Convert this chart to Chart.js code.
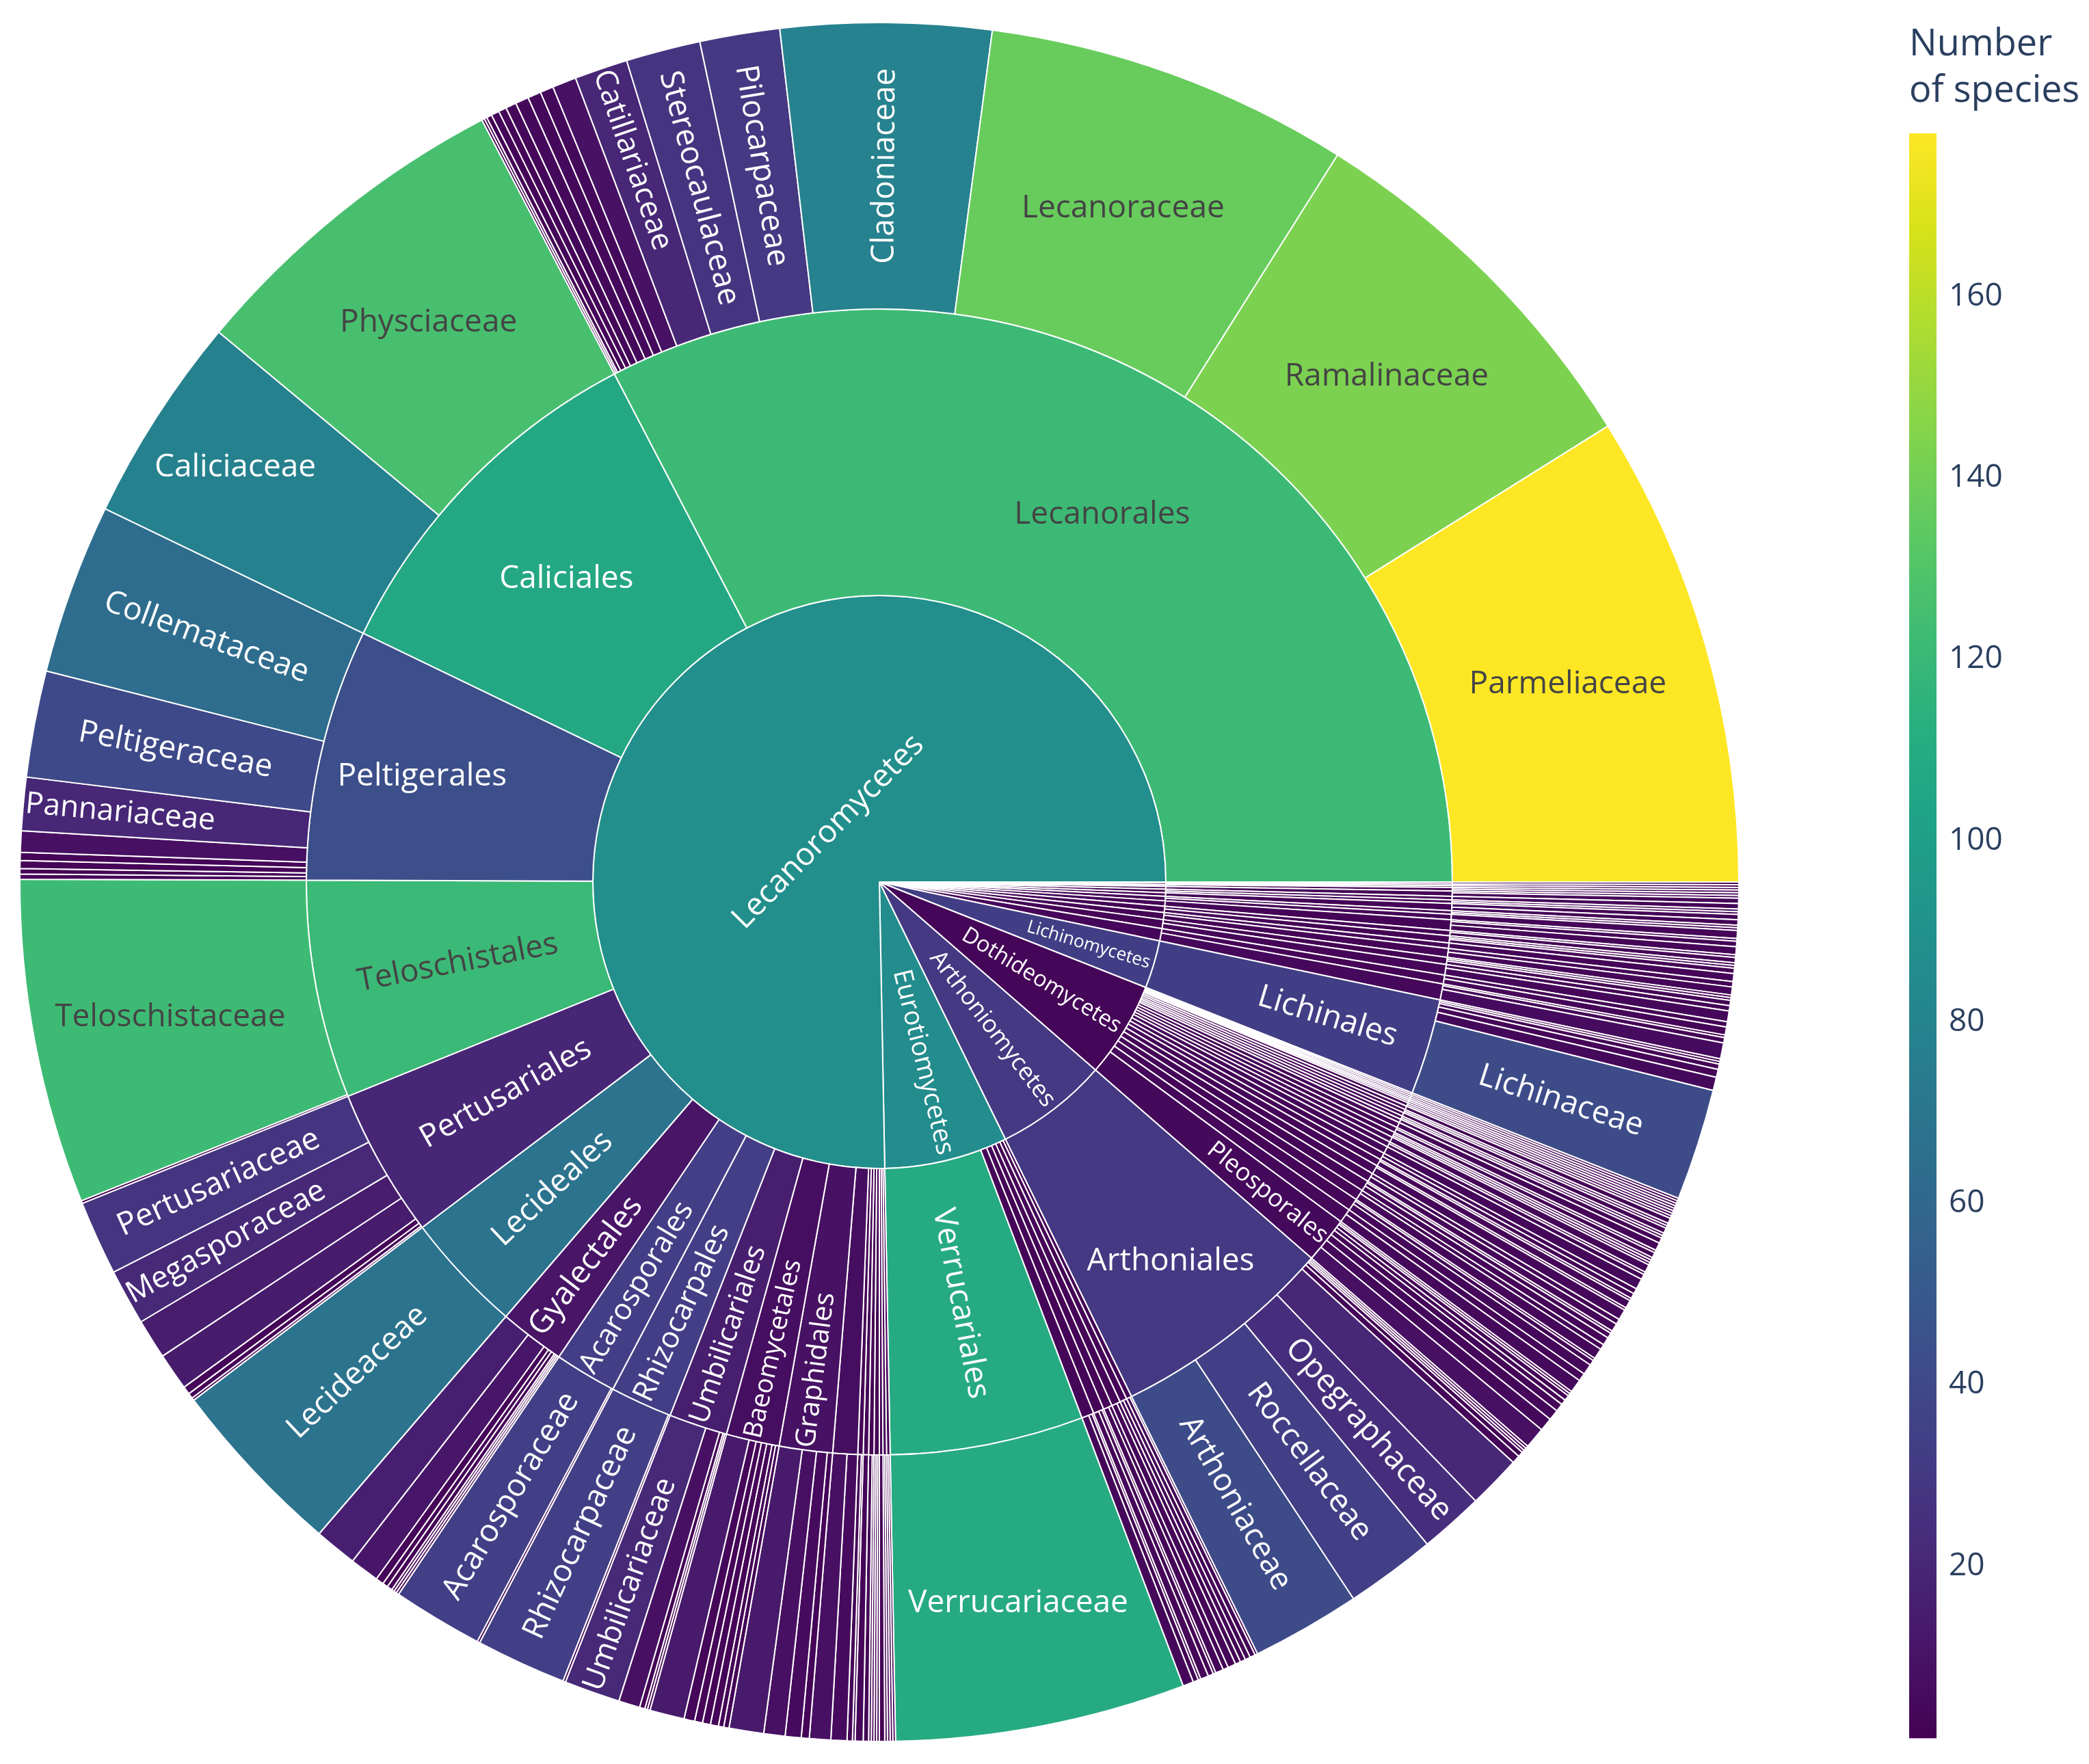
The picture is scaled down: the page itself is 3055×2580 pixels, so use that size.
<!DOCTYPE html>
<html>
<head>
<meta charset="utf-8">
<title>Lichen species per class, order and family</title>
<script src="https://cdn.jsdelivr.net/npm/chart.js@4.4.1/dist/chart.umd.min.js"></script>
<style>
  html, body { margin: 0; padding: 0; background: #fff; }
  body { width: 3055px; height: 2580px; position: relative; overflow: hidden; }
  #sunWrap { position: absolute; left: 0; top: 0; width: 2572px; height: 2580px; }
  #barWrap { position: absolute; left: 2792px; top: 0; width: 263px; height: 2580px; }
</style>
</head>
<body>
<div id="sunWrap"><canvas id="sunburst" width="2572" height="2580"></canvas></div>
<div id="barWrap"><canvas id="colorbar" width="263" height="2580"></canvas></div>
<script>
// classes, inner ring ('' = too thin to carry a label)
const classNames = ['Lecanoromycetes', 'Eurotiomycetes', 'Arthoniomycetes', 'Dothideomycetes', 'Lichinomycetes',
  '', '', '', '', '', '', '', '', '', '', '', ''];

// orders, middle ring
const orderNames = [
  'Lecanorales', 'Caliciales', 'Peltigerales', 'Teloschistales', 'Pertusariales', 'Lecideales',
  'Gyalectales', 'Acarosporales', 'Rhizocarpales', 'Umbilicariales', 'Baeomycetales', 'Graphidales',
  '', '', '', '', '', '', '', '',
  'Verrucariales', '', '', '', '', '', '',
  'Arthoniales',
  'Pleosporales', '', '', '', '', '', '', '', '', '', '', '', '', '', '', '', '', '', '', '', '', '', '', '', '', '', '',
  'Lichinales',
  '', '', '', '', '', '', '', '', '', '', '', '', '', '', '', '', '', '', ''
];
// index into classNames for each order
const orderClass = [
  0, 0, 0, 0, 0, 0, 0, 0, 0, 0, 0, 0, 0, 0, 0, 0, 0, 0, 0, 0,
  1, 1, 1, 1, 1, 1, 1,
  2,
  3, 3, 3, 3, 3, 3, 3, 3, 3, 3, 3, 3, 3, 3, 3, 3, 3, 3, 3, 3, 3, 3, 3, 3, 3, 3, 3,
  4,
  5, 5, 6, 6, 7, 7, 8, 8, 9, 10, 10, 11, 12, 12, 13, 14, 15, 15, 16
];

// species per family, one list per order (outer ring)
const familySpecies = [
  [178, 143, 137, 79, 30, 28, 20, 9, 5, 5, 5, 4, 3, 3, 2, 1, 1],
  [126, 78],
  [64, 40, 20, 8, 3, 3, 2, 2],
  [122, 1],
  [28, 21, 15, 14, 3, 2, 1],
  [68],
  [16, 11, 3, 2, 2, 1, 1, 1],
  [34, 1],
  [34, 1],
  [21, 8, 2, 1, 1],
  [13, 4, 3, 3, 3, 2, 2],
  [13, 8, 6, 3],
  [8, 6], [2, 1], [3], [2, 1], [1, 1, 1], [2], [1, 1], [1, 1],
  [109],
  [4, 2, 1], [3, 2, 1], [3, 2], [3, 2], [2, 2], [2, 1],
  [41, 34, 24, 20, 3, 2, 1, 1, 1],
  [8, 5, 4, 3, 2, 2, 1, 1],
  [5, 3], [4, 2, 1], [4, 2], [3, 2, 1], [3, 2], [4, 1], [3, 1], [2, 2], [4], [2, 1], [3], [1, 1, 1],
  [2, 1], [3], [2], [1, 1], [2], [1, 1], [2], [1, 1], [1], [1], [1], [1], [1], [1],
  [42, 5, 3, 2, 1, 1],
  [6, 2, 1], [3, 2], [4, 2], [2, 1, 1], [3, 2], [3], [2, 1, 1], [2, 1], [3, 2, 1], [3], [1, 1],
  [2, 2], [1, 1], [2], [2, 1], [1, 1], [1], [1], [1]
];

// family names that are printed, largest first in each order
const familyNames = {
  Lecanorales: ['Parmeliaceae', 'Ramalinaceae', 'Lecanoraceae', 'Cladoniaceae', 'Pilocarpaceae', 'Stereocaulaceae', 'Catillariaceae'],
  Caliciales: ['Physciaceae', 'Caliciaceae'],
  Peltigerales: ['Collemataceae', 'Peltigeraceae', 'Pannariaceae'],
  Teloschistales: ['Teloschistaceae'],
  Pertusariales: ['Pertusariaceae', 'Megasporaceae'],
  Lecideales: ['Lecideaceae'],
  Acarosporales: ['Acarosporaceae'],
  Rhizocarpales: ['Rhizocarpaceae'],
  Umbilicariales: ['Umbilicariaceae'],
  Verrucariales: ['Verrucariaceae'],
  Arthoniales: ['Arthoniaceae', 'Roccellaceae', 'Opegraphaceae'],
  Lichinales: ['Lichinaceae']
};

const colorbarTicks = [20, 40, 60, 80, 100, 120, 140, 160];

// plotly viridis
const viridisPos = [0, 0.0627, 0.1255, 0.1882, 0.2510, 0.3137, 0.3765, 0.4392, 0.5020,
  0.5647, 0.6275, 0.6902, 0.7529, 0.8157, 0.8784, 0.9412, 1];
const viridisHex = ['#440154', '#48186a', '#472d7b', '#424086', '#3b528b', '#33638d', '#2c728e', '#26828e',
  '#21918c', '#1fa088', '#28ae80', '#3fbc73', '#5ec962', '#84d44b', '#addc30', '#d8e219', '#fde725'];

function hexToRgb(h) {
  return [parseInt(h.slice(1, 3), 16), parseInt(h.slice(3, 5), 16), parseInt(h.slice(5, 7), 16)];
}
function viridis(t) {
  t = Math.max(0, Math.min(1, t));
  let i = 0;
  while (i < viridisPos.length - 2 && t > viridisPos[i + 1]) i++;
  const f = (t - viridisPos[i]) / (viridisPos[i + 1] - viridisPos[i]);
  const a = hexToRgb(viridisHex[i]), b = hexToRgb(viridisHex[i + 1]);
  return [0, 1, 2].map(k => Math.round(a[k] + (b[k] - a[k]) * f));
}

// flatten the families, then sum up orders and classes
const famVals = [], famLabels = [];
familySpecies.forEach((list, o) => {
  const names = familyNames[orderNames[o]] || [];
  list.forEach((v, k) => { famVals.push(v); famLabels.push(names[k] || ''); });
});
const sum = l => l.reduce((a, b) => a + b, 0);
const orderVals = familySpecies.map(sum);
const orderSq = familySpecies.map(l => sum(l.map(v => v * v)));
const classVals = classNames.map((_, c) => sum(orderVals.filter((_, o) => orderClass[o] === c)));
const classSq = classNames.map((_, c) => sum(orderSq.filter((_, o) => orderClass[o] === c)));

// colour = number of species, parents get the weighted mean of their children
const cmin = Math.min(...famVals), cmax = Math.max(...famVals);
const toColor = v => viridis((v - cmin) / (cmax - cmin));
const rgbStr = c => 'rgb(' + c.join(',') + ')';

const famCols = famVals.map(v => toColor(v));
const orderCols = orderVals.map((v, i) => toColor(orderSq[i] / v));
const classCols = classVals.map((v, i) => toColor(classSq[i] / v));

// chart.js goes clockwise, the picture goes counterclockwise from 3 o'clock -> reverse
const rev = a => a.slice().reverse();

function ring(values, cols, names) {
  return {
    data: rev(values),
    backgroundColor: rev(cols.map(rgbStr)),
    rgb: rev(cols),
    names: rev(names),
    borderColor: '#ffffff',
    borderWidth: 2
  };
}

// text placement like plotly sunburst (insidetextorientation auto)
const BASE_FONT = 46;
const TEXTPAD = 11.5;
function maxHalf(a, half, r, ringFrac) {
  const q = a + 1 / (2 * Math.tan(half));
  return r * Math.min(1 / (Math.sqrt(q * q + 0.5) + q), ringFrac / (Math.sqrt(a * a + ringFrac / 2) + a));
}
function normRot(t) {
  let d = t * 180 / Math.PI;
  d = ((d + 90) % 180 + 180) % 180 - 90;
  return d * Math.PI / 180;
}
// same wrap-around as plotly's angleDelta, so slices over 180 deg behave like there
function halfAngle(span) {
  const d = ((span + Math.PI) % (2 * Math.PI) + 2 * Math.PI) % (2 * Math.PI) - Math.PI;
  return 0.5 * Math.min(d || Math.PI, Math.PI);
}

const labelPlugin = {
  id: 'sectorLabels',
  afterDatasetsDraw(chart) {
    const ctx = chart.ctx;
    chart.data.datasets.forEach((ds, di) => {
      const meta = chart.getDatasetMeta(di);
      meta.data.forEach((arc, j) => {
        const name = ds.names[j];
        if (!name) return;
        const p = arc.getProps(['x', 'y', 'startAngle', 'endAngle', 'innerRadius', 'outerRadius'], true);
        ctx.font = BASE_FONT + 'px "Open Sans"';
        const w = ctx.measureText(name).width;
        const h = BASE_FONT * 1.36;
        const span = p.endAngle - p.startAngle;
        const mid = (p.startAngle + p.endAngle) / 2;
        const r = p.outerRadius;
        const half = halfAngle(span);
        const ringFrac = 1 - p.innerRadius / r;
        const rIns = Math.max(0, Math.min(1 / (1 + 1 / Math.sin(half)), ringFrac / 2));

        let best = { scale: rIns * r * 2 / Math.hypot(w, h), rc: 1 - rIns, rot: 0 };
        if (best.scale < 1) {
          const rr = Math.max(0, r - 2 * TEXTPAD);
          const a1 = h / w, s1 = maxHalf(a1, half, rr, ringFrac);
          const tan = { scale: 2 * s1 / w, rc: Math.cos(s1 / rr) - a1 * s1 / rr, rot: normRot(mid + Math.PI / 2) };
          const a2 = w / h, s2 = maxHalf(a2, half, rr, ringFrac);
          const rad = { scale: 2 * s2 / h, rc: Math.cos(s2 / rr) - a2 * s2 / rr, rot: normRot(mid) };
          if (tan.scale > best.scale) best = tan;
          if (rad.scale > best.scale) best = rad;
        }
        const size = BASE_FONT * Math.min(1, best.scale);
        if (size < 8) return;
        const tx = p.x + Math.cos(mid) * r * best.rc;
        const ty = p.y + Math.sin(mid) * r * best.rc;
        const c = ds.rgb[j];
        const bright = (c[0] * 299 + c[1] * 587 + c[2] * 114) / 1000;

        ctx.save();
        ctx.translate(tx, ty);
        ctx.rotate(best.rot);
        ctx.font = size + 'px "Open Sans"';
        ctx.textAlign = 'center';
        ctx.textBaseline = 'middle';
        ctx.fillStyle = bright < 128 ? '#ffffff' : '#444444';
        ctx.fillText(name, 0, 0);
        ctx.restore();
      });
    });
  }
};

function drawCharts() {
  new Chart(document.getElementById('sunburst'), {
    type: 'doughnut',
    data: {
      labels: [],
      datasets: [
        ring(famVals, famCols, famLabels),
        ring(orderVals, orderCols, orderNames),
        ring(classVals, classCols, classNames)
      ]
    },
    options: {
      responsive: false,
      animation: false,
      devicePixelRatio: 1,
      events: [],
      rotation: 90,
      circumference: 360,
      cutout: 0,
      radius: 1257,
      layout: { padding: 0 },
      plugins: { legend: { display: false }, tooltip: { enabled: false } }
    },
    plugins: [labelPlugin]
  });

  // colour bar as a single floating bar on its own axis
  new Chart(document.getElementById('colorbar'), {
    type: 'bar',
    data: {
      labels: ['species'],
      datasets: [{
        data: [[cmin, cmax]],
        backgroundColor: (c) => {
          const area = c.chart.chartArea;
          if (!area) return viridisHex[0];
          const g = c.chart.ctx.createLinearGradient(0, area.bottom, 0, area.top);
          viridisPos.forEach((p, i) => g.addColorStop(p, viridisHex[i]));
          return g;
        },
        borderWidth: 0,
        barPercentage: 1,
        categoryPercentage: 1
      }]
    },
    options: {
      responsive: false,
      animation: false,
      devicePixelRatio: 1,
      events: [],
      layout: { padding: { top: 0, bottom: 35, left: 0, right: 0 } },
      plugins: {
        legend: { display: false },
        tooltip: { enabled: false },
        title: {
          display: true,
          text: ['Number', 'of species'],
          align: 'start',
          color: '#2a3f5f',
          font: { family: 'Open Sans', size: 54, weight: 'normal', lineHeight: 1.25 },
          padding: { top: 32, bottom: 28 }
        }
      },
      scales: {
        x: { display: false },
        y: {
          position: 'right',
          min: cmin,
          max: cmax,
          afterBuildTicks: (s) => { s.ticks = colorbarTicks.map(v => ({ value: v })); },
          afterFit: (s) => { s.width = 223; },
          grid: { display: false },
          border: { display: false },
          ticks: { color: '#2a3f5f', font: { family: 'Open Sans', size: 46 }, padding: 10 }
        }
      }
    }
  });
}

document.fonts.load('46px "Open Sans"').finally(drawCharts);
</script>
</body>
</html>
